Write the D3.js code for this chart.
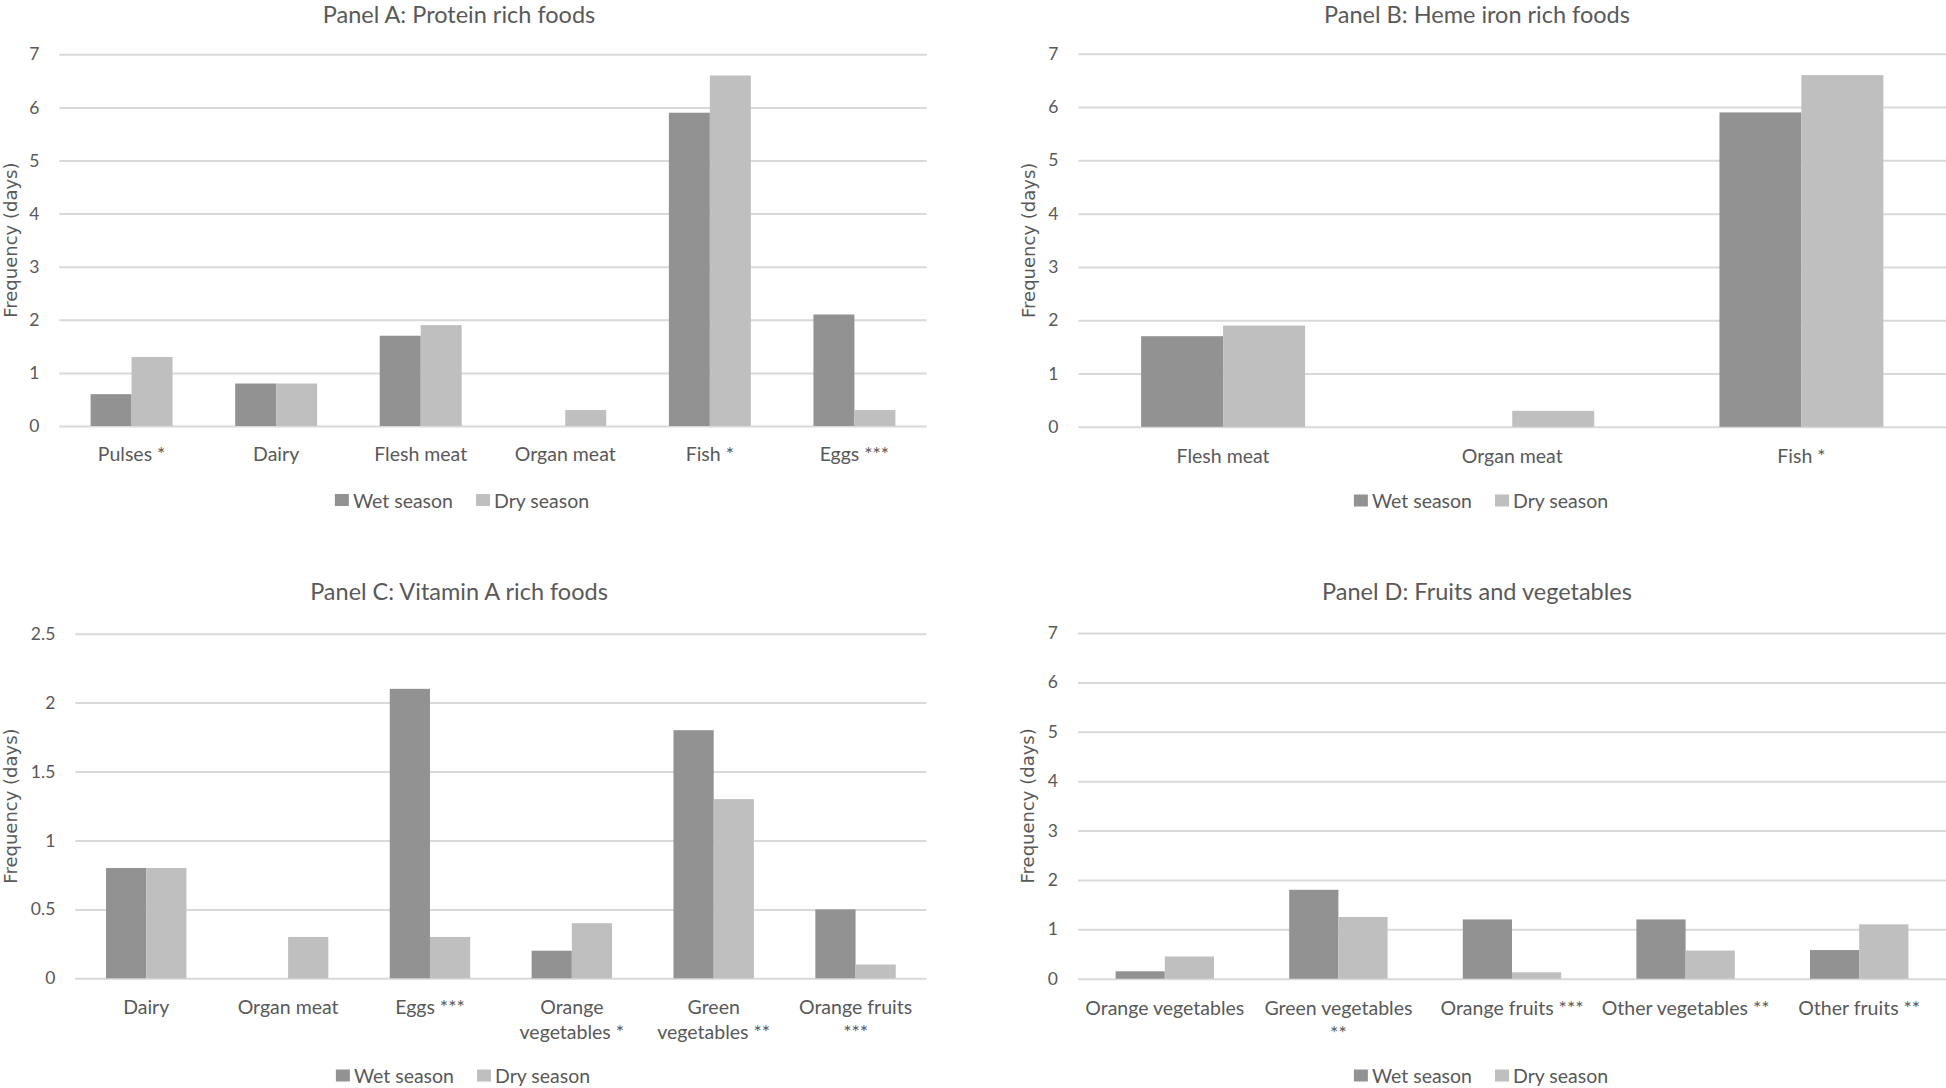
<!DOCTYPE html>
<html><head><meta charset="utf-8">
<script src="https://cdn.jsdelivr.net/npm/d3@7"></script>
<style>
body{margin:0;background:#fff}
svg{display:block}
text{font-family:Lato, "Open Sans", sans-serif; fill:#595959}
text.ytitle{font-family:"DejaVu Sans", sans-serif}
</style>
</head><body>
<svg id="chart" width="1946" height="1088"></svg>
<script>
// ---------- DATA ----------
const seriesNames = ["Wet season", "Dry season"];
const seriesColors = ["#929292", "#bfbfbf"];
const yAxisTitle = "Frequency (days)";

const panelATitle = "Panel A: Protein rich foods";
const panelACategories = ["Pulses *", "Dairy", "Flesh meat", "Organ meat", "Fish *", "Eggs ***"];
const panelAWet = [0.6, 0.8, 1.7, 0, 5.9, 2.1];
const panelADry = [1.3, 0.8, 1.9, 0.3, 6.6, 0.3];
const panelATicks = [0, 1, 2, 3, 4, 5, 6, 7];

const panelBTitle = "Panel B: Heme iron rich foods";
const panelBCategories = ["Flesh meat", "Organ meat", "Fish *"];
const panelBWet = [1.7, 0, 5.9];
const panelBDry = [1.9, 0.3, 6.6];
const panelBTicks = [0, 1, 2, 3, 4, 5, 6, 7];

const panelCTitle = "Panel C: Vitamin A rich foods";
const panelCCategories = ["Dairy", "Organ meat", "Eggs ***", "Orange vegetables *", "Green vegetables **", "Orange fruits ***"];
const panelCLabelLines = [["Dairy"], ["Organ meat"], ["Eggs ***"], ["Orange", "vegetables *"], ["Green", "vegetables **"], ["Orange fruits", "***"]];
const panelCWet = [0.8, 0, 2.1, 0.2, 1.8, 0.5];
const panelCDry = [0.8, 0.3, 0.3, 0.4, 1.3, 0.1];
const panelCTicks = [0, 0.5, 1, 1.5, 2, 2.5];

const panelDTitle = "Panel D: Fruits and vegetables";
const panelDCategories = ["Orange vegetables", "Green vegetables **", "Orange fruits ***", "Other vegetables **", "Other fruits **"];
const panelDLabelLines = [["Orange vegetables"], ["Green vegetables", "**"], ["Orange fruits ***"], ["Other vegetables **"], ["Other fruits **"]];
const panelDWet = [0.15, 1.8, 1.2, 1.2, 0.58];
const panelDDry = [0.45, 1.25, 0.13, 0.57, 1.1];
const panelDTicks = [0, 1, 2, 3, 4, 5, 6, 7];

// ---------- LAYOUT ----------
const panels = [
  {title: panelATitle, cats: panelACategories, lines: panelACategories.map(c => [c]), vals: [panelAWet, panelADry], ticks: panelATicks,
   x0: 59.3, x1: 926.7, y0: 426, yTop: 54.3, titleX: 459, titleBase: 22.5, labelY: 453, legendY: 500, legendCx: 462, yLabelX: 10},
  {title: panelBTitle, cats: panelBCategories, lines: panelBCategories.map(c => [c]), vals: [panelBWet, panelBDry], ticks: panelBTicks,
   x0: 1078.5, x1: 1946, y0: 426.8, yTop: 53.8, titleX: 1477, titleBase: 22.5, labelY: 454.5, legendY: 500.5, legendCx: 1481, yLabelX: 1028},
  {title: panelCTitle, cats: panelCCategories, lines: panelCLabelLines, vals: [panelCWet, panelCDry], ticks: panelCTicks,
   x0: 75.3, x1: 926.5, y0: 978.3, yTop: 633.7, titleX: 459, titleBase: 600, labelY: 1006, legendY: 1075.5, legendCx: 463, yLabelX: 10},
  {title: panelDTitle, cats: panelDCategories, lines: panelDLabelLines, vals: [panelDWet, panelDDry], ticks: panelDTicks,
   x0: 1078, x1: 1946, y0: 978.7, yTop: 633, titleX: 1477, titleBase: 599.5, labelY: 1006.5, legendY: 1075.5, legendCx: 1481, yLabelX: 1027}
];

const svg = d3.select("#chart");

panels.forEach(p => {
  const g = svg.append("g");
  const x = d3.scaleBand().domain(p.cats).range([p.x0, p.x1]).paddingInner(0).paddingOuter(0);
  const xs = d3.scaleBand().domain(seriesNames).range([0, x.bandwidth()]).paddingInner(0).paddingOuter(0.764);
  const yMax = p.ticks[p.ticks.length - 1];
  const y = d3.scaleLinear().domain([0, yMax]).range([p.y0, p.yTop]);

  // gridlines
  const grid = g.append("g").attr("transform", `translate(${p.x0},0)`)
    .call(d3.axisLeft(y).tickValues(p.ticks).tickSize(-(p.x1 - p.x0)).tickFormat(""));
  grid.select(".domain").remove();
  grid.selectAll("line").attr("stroke", "#d9d9d9").attr("stroke-width", 2);

  // tick labels
  const ax = g.append("g").attr("transform", `translate(${p.x0},0)`)
    .call(d3.axisLeft(y).tickValues(p.ticks).tickSize(0).tickPadding(20).tickFormat(d => String(d)));
  ax.select(".domain").remove();
  ax.selectAll("text").attr("font-size", 17.5).attr("font-family", null).attr("fill", "#595959");

  // bars
  seriesNames.forEach((s, si) => {
    g.append("g").selectAll("rect").data(p.cats.map((c, i) => ({c, v: p.vals[si][i]})))
      .join("rect")
      .attr("x", d => x(d.c) + xs(s))
      .attr("y", d => y(d.v))
      .attr("width", xs.bandwidth())
      .attr("height", d => y(0) - y(d.v))
      .attr("fill", seriesColors[si]);
  });

  // category labels
  const bw = x.bandwidth();
  p.cats.forEach((c, ci) => {
    const t = g.append("text").attr("x", x(c) + bw / 2).attr("y", p.labelY)
      .attr("text-anchor", "middle").attr("dominant-baseline", "central").attr("font-size", 19.5);
    p.lines[ci].forEach((ln, li) => {
      t.append("tspan").attr("x", x(c) + bw / 2).attr("dy", li === 0 ? 0 : 25).text(ln);
    });
  });

  // title
  g.append("text").attr("x", p.titleX).attr("y", p.titleBase).attr("text-anchor", "middle")
    .attr("font-size", 23.5).text(p.title);

  // y axis title
  g.append("text").attr("class", "ytitle")
    .attr("transform", `translate(${p.yLabelX},${(p.y0 + p.yTop) / 2}) rotate(-90)`)
    .attr("text-anchor", "middle").attr("dominant-baseline", "central")
    .attr("font-size", 18).text(yAxisTitle);

  // legend
  const lg = g.append("g");
  let cx = 0;
  seriesNames.forEach((s, si) => {
    lg.append("rect").attr("x", cx).attr("y", p.legendY - 6).attr("width", 14).attr("height", 12).attr("fill", seriesColors[si]);
    const tt = lg.append("text").attr("x", cx + 18).attr("y", p.legendY).attr("dominant-baseline", "central")
      .attr("font-size", 19.5).text(s);
    cx += 18 + tt.node().getComputedTextLength() + (si === 0 ? 23 : 0);
  });
  lg.attr("transform", `translate(${p.legendCx - cx / 2},0)`);
});
</script>
</body></html>
